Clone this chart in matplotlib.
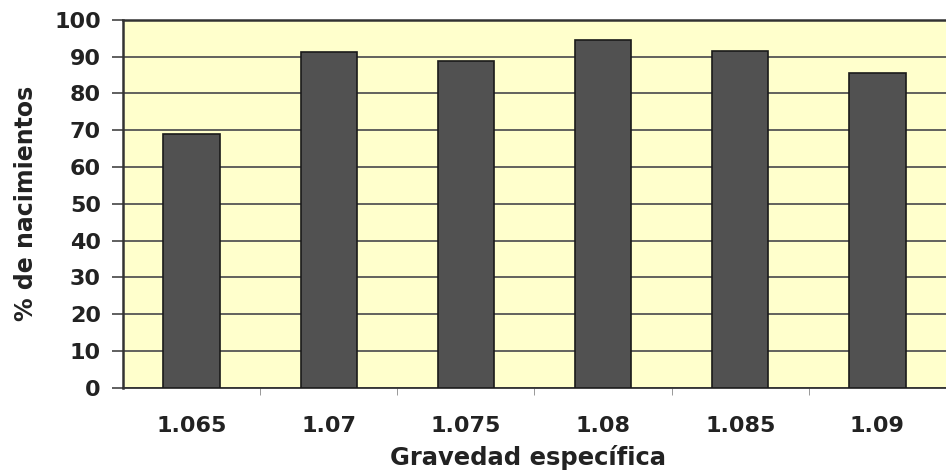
import matplotlib
matplotlib.use("Agg")
import matplotlib.pyplot as plt
import numpy as np

categories = ["1.065", "1.07", "1.075", "1.08", "1.085", "1.09"]
values = [69.0, 91.3, 88.9, 94.6, 91.6, 85.6]
yticks = [0, 10, 20, 30, 40, 50, 60, 70, 80, 90, 100]

plt.rcParams['font.family'] = ['DejaVu Sans']
plt.rcParams['font.weight'] = 'bold'

fig = plt.figure(figsize=(9.46, 4.73), dpi=100)
ax = fig.add_axes([0.130, 0.180, 0.870, 0.778])
ax.set_facecolor('#FFFFCC')

x = np.arange(len(categories))
ax.set_axisbelow(True)
ax.yaxis.grid(True, color='#555555', linewidth=1.3)
ax.bar(x, values, width=0.41, color='#515151', edgecolor='#1a1a1a', linewidth=1.2, zorder=3)

ax.set_ylim(0, 100)
ax.set_yticks(yticks)
ax.set_xlim(-0.5, 5.437)
ax.set_xticks(x)
ax.set_xticklabels(categories, fontsize=16, fontweight='bold', color='#222222')
ax.set_xticks(np.arange(len(categories)) + 0.5, minor=True)
ax.tick_params(axis='x', which='major', length=0, pad=20)
ax.tick_params(axis='x', which='minor', length=5, color='#888888')
ax.tick_params(axis='y', labelsize=16, labelcolor='#222222', length=8, width=1.2, color='#444444', pad=8)
for lbl in ax.get_yticklabels():
    lbl.set_fontweight('bold')

for side in ['top', 'left']:
    ax.spines[side].set_color('#333333')
    ax.spines[side].set_linewidth(1.8)
ax.spines['bottom'].set_color('#333333')
ax.spines['bottom'].set_linewidth(1.3)
ax.spines['right'].set_visible(False)

ax.set_ylabel('% de nacimientos', fontsize=17, fontweight='bold', color='#222222')
ax.set_xlabel('Gravedad específica', fontsize=17.5, fontweight='bold', color='#222222')
ax.yaxis.set_label_coords(-0.118, 0.5)
ax.xaxis.set_label_coords((528 - 123) / 823, -0.19)
ax.xaxis.label.set_va('center')
ax.yaxis.label.set_va('center')

fig.savefig('out.png', dpi=100)
